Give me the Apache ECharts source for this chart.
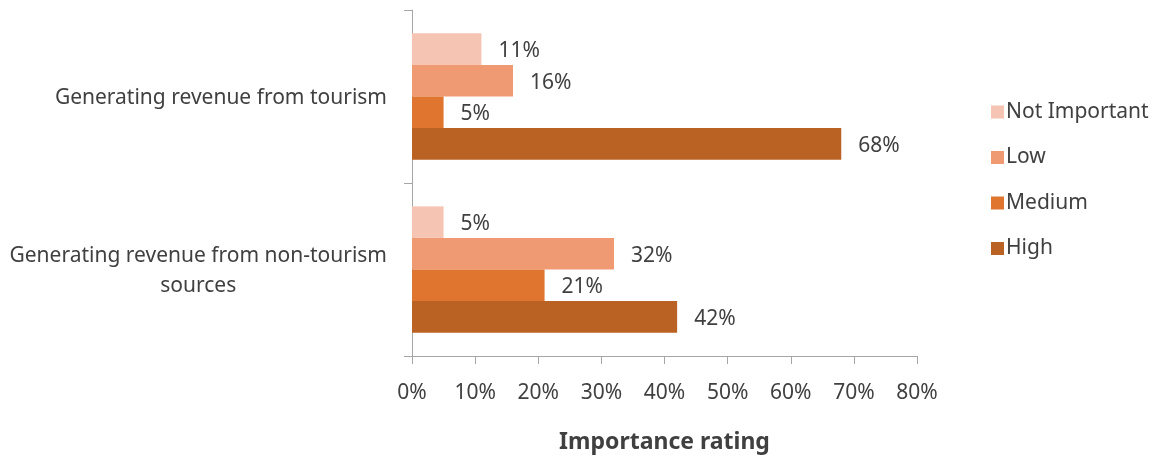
<!DOCTYPE html>
<html>
<head>
<meta charset="utf-8">
<script src="https://cdn.jsdelivr.net/npm/echarts@6/dist/echarts.min.js"></script>
<style>
  html, body { margin: 0; padding: 0; background: #fff; }
  #chart { width: 1157px; height: 457px; }
</style>
</head>
<body>
<div id="chart"></div>
<script>
// Objectives rated by importance (share of respondents, %)
const categories = [
  'Generating revenue from tourism',
  'Generating revenue from non-tourism\nsources'
];
const seriesNames = ['Not Important', 'Low', 'Medium', 'High'];
const notImportant = [11, 5];
const low = [16, 32];
const medium = [5, 21];
const high = [68, 42];
const xTicks = [0, 10, 20, 30, 40, 50, 60, 70, 80];

const colors = ['#F6C4B3', '#F09A73', '#DF752F', '#BA6124'];
const values = [notImportant, low, medium, high];
const textColor = '#404040';
const fontFamily = '"Noto Sans", "Open Sans", sans-serif';

const chart = echarts.init(document.getElementById('chart'), null, { renderer: 'canvas' });

const series = seriesNames.map((name, i) => ({
  name: name,
  type: 'bar',
  data: values[i],
  barGap: '0%',
  barCategoryGap: '27%',
  itemStyle: { color: colors[i] },
  label: {
    show: true,
    position: 'right',
    distance: 17,
    offset: [0, 2],
    formatter: '{c}%',
    color: textColor,
    fontSize: 21,
    fontFamily: fontFamily
  }
}));

chart.setOption({
  animation: false,
  backgroundColor: '#ffffff',
  color: colors,
  grid: {
    left: 412, right: 240, top: 10, bottom: 101,
    containLabel: false,
    outerBoundsMode: 'none'
  },
  legend: {
    orient: 'vertical',
    left: 986,
    top: 96.5,
    itemWidth: 13,
    itemHeight: 13,
    itemGap: 24.5,
    icon: 'rect',
    data: seriesNames,
    textStyle: { color: textColor, fontSize: 21, fontFamily: fontFamily, padding: [0, 0, 0, -3] }
  },
  xAxis: {
    type: 'value',
    min: xTicks[0],
    max: xTicks[xTicks.length - 1],
    interval: 10,
    name: 'Importance rating',
    nameLocation: 'middle',
    nameGap: 75,
    nameTextStyle: { color: textColor, fontSize: 23, fontWeight: 'bold', fontFamily: fontFamily },
    axisLine: { show: true, lineStyle: { color: '#A6A6A6', width: 1 } },
    axisTick: { show: true, length: 8, lineStyle: { color: '#A6A6A6' } },
    splitLine: { show: false },
    axisLabel: {
      color: textColor,
      fontSize: 21,
      fontFamily: fontFamily,
      margin: 27,
      formatter: '{value}%'
    }
  },
  yAxis: {
    type: 'category',
    inverse: true,
    data: categories,
    axisLine: { show: true, lineStyle: { color: '#A6A6A6', width: 1 } },
    axisTick: { show: true, length: 8, lineStyle: { color: '#A6A6A6' } },
    axisLabel: {
      margin: 25,
      color: textColor,
      fontSize: 21,
      fontFamily: fontFamily,
      lineHeight: 30,
      padding: [4, 0, 0, 0],
      formatter: function (v) {
        return v.split('\n').map(s => '{c|' + s + '}').join('\n');
      },
      rich: {
        c: { align: 'center', color: textColor, fontSize: 21, fontFamily: fontFamily, lineHeight: 30 }
      }
    }
  },
  series: series
});
</script>
</body>
</html>
